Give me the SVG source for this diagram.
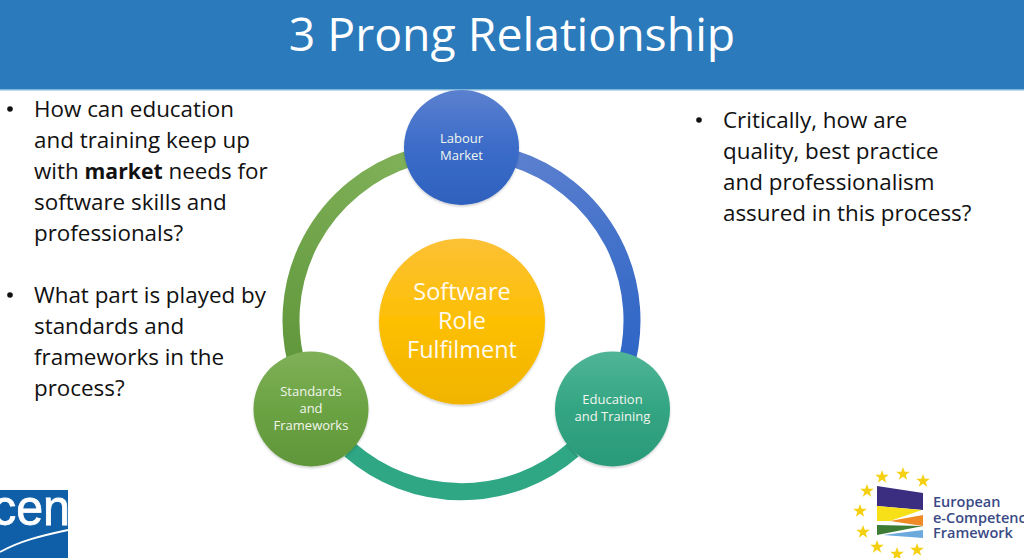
<svg xmlns="http://www.w3.org/2000/svg" width="1024" height="558" viewBox="0 0 1024 558">
<style>
.t{font-family:"Open Sans","Liberation Sans",sans-serif}
.b{font-size:22.4px;fill:#111;font-family:"Open Sans","Liberation Sans",sans-serif}
.n{font-size:13px;fill:#f2f6ee;text-anchor:middle;font-family:"Open Sans","Liberation Sans",sans-serif}
.c{font-size:23.5px;fill:#fffaf0;text-anchor:middle;font-family:"Open Sans","Liberation Sans",sans-serif}
.arc{fill:none;stroke-width:17}
.l{font-size:14.5px;fill:#3a4a85;font-weight:600;font-family:"Open Sans","Liberation Sans",sans-serif}
</style>
<defs>
<linearGradient id="gb" x1="0" y1="0" x2="0" y2="1"><stop offset="0" stop-color="#5b80cf"/><stop offset=".5" stop-color="#3b6cc9"/><stop offset="1" stop-color="#2e61bd"/></linearGradient>
<linearGradient id="gt" x1="0" y1="0" x2="0" y2="1"><stop offset="0" stop-color="#50b596"/><stop offset=".5" stop-color="#33a583"/><stop offset="1" stop-color="#2a9a79"/></linearGradient>
<linearGradient id="gg" x1="0" y1="0" x2="0" y2="1"><stop offset="0" stop-color="#7fb058"/><stop offset=".5" stop-color="#6ba343"/><stop offset="1" stop-color="#5f963a"/></linearGradient>
<linearGradient id="gy" x1="0" y1="0" x2="0" y2="1"><stop offset="0" stop-color="#fcc135"/><stop offset=".5" stop-color="#fdbf03"/><stop offset="1" stop-color="#f0b400"/></linearGradient>
<linearGradient id="ab" gradientUnits="userSpaceOnUse" x1="520" y1="150" x2="620" y2="360"><stop offset="0" stop-color="#5c80cf"/><stop offset="1" stop-color="#2f66c6"/></linearGradient>
<linearGradient id="ag" gradientUnits="userSpaceOnUse" x1="400" y1="160" x2="300" y2="360"><stop offset="0" stop-color="#7fb058"/><stop offset="1" stop-color="#62983d"/></linearGradient>
<polygon id="s" points="0,-7 1.7,-2.2 6.8,-2.2 2.7,.9 4.2,5.7 0,2.8 -4.2,5.7 -2.7,.9 -6.8,-2.2 -1.7,-2.2" fill="#f5d010"/>
<filter id="sh" x="-20%" y="-20%" width="140%" height="140%"><feDropShadow dx="0" dy="1.5" stdDeviation="1.2" flood-color="#000" flood-opacity=".2"/></filter>
<clipPath id="cenclip"><rect x="0" y="490" width="68" height="68"/></clipPath>
</defs>
<rect width="1024" height="558" fill="#fff"/>
<g id="header">
<rect width="1024" height="90" fill="#2b7abb"/>
<rect y="89" width="1024" height="1.5" fill="#7fb6dc"/>
<text class="t" x="512" y="51" font-size="46.4" fill="#fff" text-anchor="middle">3 Prong Relationship</text>
</g>
<g id="left-text">
<circle cx="10" cy="109" r="2.8" fill="#111"/>
<text class="b" x="34" y="117">How can education</text>
<text class="b" x="34" y="148">and training keep up</text>
<text class="b" x="34" y="179">with <tspan font-weight="700" font-size="21.2">market</tspan> needs for</text>
<text class="b" x="34" y="210">software skills and</text>
<text class="b" x="34" y="241">professionals?</text>
<circle cx="10" cy="295" r="2.8" fill="#111"/>
<text class="b" x="34" y="303">What part is played by</text>
<text class="b" x="34" y="334">standards and</text>
<text class="b" x="34" y="365">frameworks in the</text>
<text class="b" x="34" y="396">process?</text>
</g>
<g id="right-text">
<circle cx="699" cy="120" r="2.8" fill="#111"/>
<text class="b" x="723" y="128">Critically, how are</text>
<text class="b" x="723" y="159">quality, best practice</text>
<text class="b" x="723" y="190">and professionalism</text>
<text class="b" x="723" y="221">assured in this process?</text>
</g>
<g id="connectors">
<path class="arc" stroke="url(#ab)" d="M512 158 A170 170 0 0 1 624 372"/>
<path class="arc" stroke="#2fa784" d="M350 450 A170 170 0 0 0 573 450"/>
<path class="arc" stroke="url(#ag)" d="M299 372 A170 170 0 0 1 411 158"/>
</g>
<g id="node-labour-market">
<circle cx="461.5" cy="147.5" r="57.5" fill="url(#gb)" filter="url(#sh)"/>
<text class="n" x="461.5" y="143">Labour</text>
<text class="n" x="461.5" y="159.5">Market</text>
</g>
<g id="node-education-training">
<circle cx="612.5" cy="409" r="57.5" fill="url(#gt)" filter="url(#sh)"/>
<text class="n" x="612.5" y="404">Education</text>
<text class="n" x="612.5" y="421">and Training</text>
</g>
<g id="node-standards-frameworks">
<circle cx="311" cy="409" r="57.5" fill="url(#gg)" filter="url(#sh)"/>
<text class="n" x="311" y="396">Standards</text>
<text class="n" x="311" y="413">and</text>
<text class="n" x="311" y="429.5">Frameworks</text>
</g>
<g id="node-software-role">
<circle cx="462" cy="321.5" r="83" fill="url(#gy)" filter="url(#sh)"/>
<text class="c" x="462" y="300">Software</text>
<text class="c" x="462" y="329">Role</text>
<text class="c" x="462" y="358">Fulfilment</text>
</g>
<g id="cen-logo">
<rect x="0" y="490" width="68" height="68" fill="#0f5fa8"/>
<g clip-path="url(#cenclip)"><text x="-8" y="525" font-family="'Liberation Sans',sans-serif" font-size="50" fill="#fff" stroke="#fff" stroke-width=".8" textLength="78" lengthAdjust="spacingAndGlyphs">cen</text></g>
<path d="M0 552 C20 541 40 536 68 530" fill="none" stroke="#fff" stroke-width="1.8"/>
</g>
<g id="ecf-logo">
<use href="#s" x="903" y="474"/><use href="#s" x="882" y="477"/><use href="#s" x="923" y="481"/>
<use href="#s" x="867" y="491"/><use href="#s" x="860" y="511"/><use href="#s" x="863" y="532"/>
<use href="#s" x="877" y="547"/><use href="#s" x="897" y="554"/><use href="#s" x="917" y="550"/>
<polygon points="877,486 923,493 923,510 877,506" fill="#3b2d7f"/>
<polygon points="877,506 922,510 890,521 877,521" fill="#f7e017"/>
<polygon points="890,521 923,515 923,526" fill="#f08a24"/>
<polygon points="877,525 923,526 877,535" fill="#3d7c35"/>
<polygon points="883,535 923,530 923,538" fill="#6ca9dc"/>
<text class="l" x="933" y="507">European</text>
<text class="l" x="933" y="523">e-Competence</text>
<text class="l" x="933" y="538">Framework</text>
</g>
</svg>
